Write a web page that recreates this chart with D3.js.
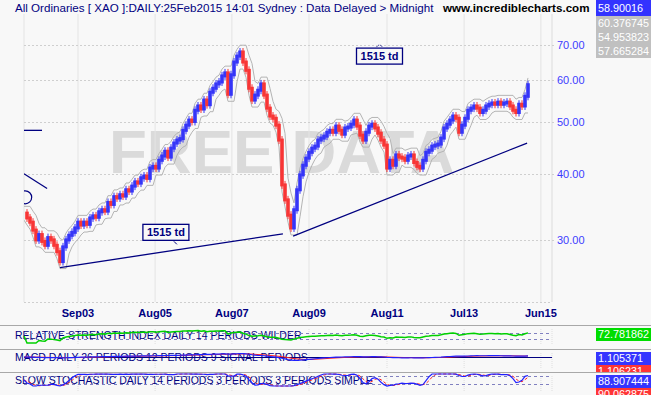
<!DOCTYPE html>
<html>
<head>
<meta charset="utf-8">
<script src="https://cdn.jsdelivr.net/npm/d3@7"></script>
<style>
  body { margin: 0; background: #f8f8f8; }
  svg { display: block; font-family: "Liberation Sans", Arial, sans-serif; }
</style>
</head>
<body>
<div id="chart"></div>
<script>
////////// Data //////////
// one close every ~20 trading days, All Ordinaries (index / 100)
const closes = [
  33.7, 33.0, 32.4, 31.3, 30.0, 30.7, 29.8, 29.3, 30.3, 30.0,
  29.3, 28.5, 27.3, 29.1, 30.0, 30.6, 31.0, 31.6, 32.4, 32.0,
  32.4, 32.1, 33.0, 33.3, 33.1, 33.9, 34.2, 34.0, 35.3, 35.0,
  36.2, 36.0, 36.5, 36.3, 37.3, 37.1, 37.9, 38.6, 38.4, 39.3,
  39.6, 39.2, 41.0, 41.3, 41.0, 42.4, 43.2, 44.1, 43.0, 44.7,
  45.7, 46.3, 46.6, 48.3, 49.4, 50.5, 50.2, 52.7, 53.7, 53.0,
  55.1, 54.0, 57.0, 58.0, 59.1, 59.6, 61.2, 62.0, 56.5, 61.5,
  65.0, 66.7, 67.9, 65.0, 62.7, 58.0, 55.1, 56.3, 57.5, 59.1,
  56.3, 53.2, 51.4, 50.9, 49.4, 46.3, 38.1, 35.7, 33.4, 31.6,
  34.2, 37.3, 39.8, 41.5, 42.8, 43.9, 44.7, 45.1, 46.3, 46.7,
  47.1, 47.9, 48.3, 47.9, 49.2, 48.3, 47.5, 48.8, 49.0, 49.6,
  50.5, 49.2, 47.3, 46.3, 47.9, 49.2, 49.6, 48.8, 47.7, 46.3,
  45.3, 41.0, 42.4, 41.5, 43.4, 43.0, 42.8, 42.4, 43.2, 43.4,
  42.0, 41.3, 41.0, 42.4, 43.9, 44.3, 45.1, 45.3, 45.5, 46.7,
  48.8, 49.6, 50.5, 51.4, 50.9, 47.9, 49.4, 50.9, 52.7, 53.2,
  53.7, 53.2, 52.2, 52.7, 53.7, 54.1, 54.4, 54.1, 54.6, 54.1,
  54.4, 54.6, 53.7, 52.7, 52.2, 54.1, 53.7, 56.0, 58.9
];
const monthLabels = ['Sep03', 'Aug05', 'Aug07', 'Aug09', 'Aug11', 'Jul13', 'Jun15'];
const monthAt = [18, 43.7, 69.3, 95, 121, 146.7, 172.3];   // in sample units
const priceTicks = [30, 40, 50, 60, 70];
const quoteLast = '58.90016';
const quoteOther = ['60.376745', '54.953823', '57.665284'];
const panelTitles = [
  'RELATIVE STRENGTH INDEX DAILY 14 PERIODS WILDER',
  'MACD DAILY 26 PERIODS 12 PERIODS 9 SIGNAL PERIODS',
  'SLOW STOCHASTIC DAILY 14 PERIODS 3 PERIODS 3 PERIODS SIMPLE'
];
const panelValues = [['72.781862'], ['1.105371', '1.106231'], ['88.907444', '90.062875']];
// drawing-tool objects: [sample, price]
const trendLines = [
  [[12, 26.6], [86.3, 30.8]],
  [[89.7, 30.5], [167.7, 45.7]]
];
const trendNotes = [
  { text: '1515 td', at: [47.3, 31.0] },
  { text: '1515 td', at: [118.5, 66.7] }
];

////////// Sizes & styles //////////
const width = 651, height = 395;
const plot = { left: 24, right: 552, top: 14, bottom: 302 };
const navy = '#000080';
const upColor = '#3535f8';
const downColor = '#f83535';
const fontFamily = '"Liberation Sans", Arial, sans-serif';
const font = `11.6px ${fontFamily}`;
const boxFont = `10.8px ${fontFamily}`;

const svg = d3.select('#chart').append('svg')
  .attr('width', width)
  .attr('height', height);

svg.append('rect').attr('width', width).attr('height', height).attr('fill', '#f8f8f8');

const defs = svg.append('defs');
defs.append('clipPath').attr('id', 'plotClip')
  .append('rect')
    .attr('x', plot.left).attr('y', plot.top)
    .attr('width', plot.right - plot.left).attr('height', plot.bottom - plot.top);

////////// Scales //////////
const x = d3.scaleLinear().domain([0, 176]).range([plot.left, plot.right]);
const y = d3.scaleLog().domain([22.9, 80.1]).range([plot.bottom, plot.top]);

////////// Watermark //////////
svg.append('text')
  .attr('x', 109).attr('y', 173)
  .style('font', `bold 62px ${fontFamily}`)
  .attr('fill', '#dadada')
  .text('FREE DATA');

////////// Grid //////////
const grid = svg.append('g').attr('class', 'grid');
grid.selectAll('line.v')
  .data([0].concat(monthAt))
  .join('line')
    .attr('x1', d => x(d)).attr('x2', d => x(d))
    .attr('y1', plot.top).attr('y2', plot.bottom)
    .attr('stroke', '#e4e4e4');
grid.append('line')
  .attr('x1', plot.right).attr('x2', plot.right)
  .attr('y1', plot.top).attr('y2', plot.bottom)
  .attr('stroke', '#dcdcdc');
grid.selectAll('line.h')
  .data(priceTicks)
  .join('line')
    .attr('x1', plot.left).attr('x2', plot.right + 3)
    .attr('y1', d => Math.round(y(d)) + 0.5).attr('y2', d => Math.round(y(d)) + 0.5)
    .attr('stroke', '#cfcfcf')
    .attr('stroke-dasharray', '2,2');
grid.append('line')
  .attr('x1', plot.left).attr('x2', plot.right)
  .attr('y1', plot.bottom + 0.5).attr('y2', plot.bottom + 0.5)
  .attr('stroke', '#cfcfcf')
  .attr('stroke-dasharray', '2,2');

////////// Price //////////
const chart = svg.append('g').attr('clip-path', 'url(#plotClip)');

// price channel round the closes (3 samples)
const upper = closes.map((c, i) => d3.max(closes.slice(Math.max(0, i - 2), i + 1)) * 1.03);
const lower = closes.map((c, i) => d3.min(closes.slice(Math.max(0, i - 2), i + 1)) * 0.97);
const envLine = d3.line().x((d, i) => x(i)).y(d => y(d));
[upper, lower].forEach(band => {
  chart.append('path')
    .attr('d', envLine(band))
    .attr('fill', 'none')
    .attr('stroke', '#b4b4b4')
    .attr('stroke-width', 1);
});

const bars = closes.slice(1).map((c, i) => ({ i: i + 1, open: closes[i], close: c }));
chart.selectAll('line.wick')
  .data(bars)
  .join('line')
    .attr('x1', d => x(d.i)).attr('x2', d => x(d.i))
    .attr('y1', d => y(Math.max(d.open, d.close)) - 4)
    .attr('y2', d => y(Math.min(d.open, d.close)) + 4)
    .attr('stroke', d => d.close >= d.open ? upColor : downColor);
chart.selectAll('rect.bar')
  .data(bars)
  .join('rect')
    .attr('x', d => x(d.i) - 1.8)
    .attr('width', 3.6)
    .attr('y', d => y(Math.max(d.open, d.close)) - 1.5)
    .attr('height', d => Math.abs(y(d.open) - y(d.close)) + 3)
    .attr('fill', d => d.close >= d.open ? upColor : downColor);

////////// Drawing tools //////////
chart.selectAll('line.trend')
  .data(trendLines)
  .join('line')
    .attr('x1', d => x(d[0][0])).attr('y1', d => y(d[0][1]))
    .attr('x2', d => x(d[1][0])).attr('y2', d => y(d[1][1]))
    .attr('stroke', navy)
    .attr('stroke-width', 1.3);

// bits of older drawings cut by the left edge
chart.append('line')
  .attr('x1', x(-4)).attr('x2', x(6)).attr('y1', y(48.3)).attr('y2', y(48.3))
  .attr('stroke', navy).attr('stroke-width', 1.3);
chart.append('line')
  .attr('x1', x(0)).attr('x2', x(7.7)).attr('y1', y(40.0)).attr('y2', y(37.5))
  .attr('stroke', navy).attr('stroke-width', 1.2);
chart.append('circle')
  .attr('cx', x(0.4)).attr('cy', y(36.1)).attr('r', 6.5)
  .attr('fill', 'none').attr('stroke', navy).attr('stroke-width', 1.2);

const notes = svg.selectAll('g.note')
  .data(trendNotes)
  .join('g')
    .attr('transform', d => `translate(${x(d.at[0])}, ${y(d.at[1])})`);
notes.append('rect')
  .attr('x', -23).attr('y', -8).attr('width', 46).attr('height', 16)
  .attr('fill', '#f8f8f8')
  .attr('stroke', navy)
  .attr('stroke-width', 1.3);
notes.append('text')
  .attr('text-anchor', 'middle').attr('y', 4)
  .style('font', `bold 11px ${fontFamily}`)
  .attr('fill', navy)
  .text(d => d.text);
notes.filter((d, i) => i === 0).append('line')
  .attr('x1', 8).attr('y1', 9).attr('x2', 11).attr('y2', 12)
  .attr('stroke', navy);
notes.filter((d, i) => i === 1).append('path')
  .attr('d', 'M-3,-9 Q0,-13 3,-9')
  .attr('fill', 'none')
  .attr('stroke', navy)
  .attr('stroke-dasharray', '1,1');

////////// Axes //////////
svg.append('g')
  .selectAll('text')
  .data(priceTicks)
  .join('text')
    .attr('x', 557).attr('y', d => y(d) + 4)
    .style('font', `11px ${fontFamily}`)
    .attr('fill', '#3c3cff')
    .text(d => d.toFixed(2));

svg.append('g')
  .selectAll('text')
  .data(monthLabels)
  .join('text')
    .attr('x', (d, i) => x(monthAt[i])).attr('y', 317)
    .attr('text-anchor', 'middle')
    .style('font', `bold 11px ${fontFamily}`)
    .attr('fill', navy)
    .text(d => d);

////////// Header //////////
svg.append('text')
  .attr('x', 15).attr('y', 12)
  .style('font', font)
  .attr('fill', navy)
  .text('All Ordinaries [ XAO ]:DAILY:25Feb2015 14:01 Sydney : Data Delayed > Midnight');
svg.append('text')
  .attr('x', 443).attr('y', 12)
  .style('font', `bold ${font}`)
  .attr('fill', '#000')
  .text('www.incrediblecharts.com');

svg.append('rect').attr('x', 596).attr('y', 0).attr('width', 55).attr('height', 16).attr('fill', '#3333ff');
svg.append('text').attr('x', 598).attr('y', 12).style('font', boxFont).attr('fill', '#fff').text(quoteLast);
svg.append('rect').attr('x', 596).attr('y', 16).attr('width', 55).attr('height', 42).attr('fill', '#c0c0c0');
svg.append('g').selectAll('text')
  .data(quoteOther)
  .join('text')
    .attr('x', 598).attr('y', (d, i) => 27 + i * 14)
    .style('font', boxFont)
    .attr('fill', '#fff')
    .text(d => d);

////////// Indicator panels //////////
const ema = (arr, n) => {
  const k = 2 / (n + 1);
  const out = [];
  arr.forEach((v, i) => out.push(i ? v * k + out[i - 1] * (1 - k) : v));
  return out;
};
const sma = (arr, n) => arr.map((v, i) => d3.mean(arr.slice(Math.max(0, i - n + 1), i + 1)));

// RSI (Wilder)
const rsi = [];
let avgUp = 0, avgDown = 0;
closes.forEach((c, i) => {
  if (i === 0) { rsi.push(50); return; }
  const ch = c - closes[i - 1];
  avgUp = (avgUp * 13 + Math.max(ch, 0)) / 14;
  avgDown = (avgDown * 13 + Math.max(-ch, 0)) / 14;
  rsi.push(avgDown === 0 ? 100 : 100 - 100 / (1 + avgUp / avgDown));
});
// MACD
const ema12 = ema(closes, 12), ema26 = ema(closes, 26);
const macd = closes.map((c, i) => ema12[i] - ema26[i]);
const signal = ema(macd, 9);
// slow stochastic
const fastK = closes.map((c, i) => {
  const win = closes.slice(Math.max(0, i - 13), i + 1);
  const lo = d3.min(win), hi = d3.max(win);
  return hi === lo ? 50 : (c - lo) / (hi - lo) * 100;
});
const slowK = sma(fastK, 3);
const slowD = sma(slowK, 3);

const panels = [
  { top: 325, bottom: 349, textY: 339, scale: d3.scaleLinear([0, 100], [343, 329]), levels: [70, 30],
    series: [{ v: rsi, c: '#00d000', w: 1.5 }] },
  { top: 349, bottom: 372, textY: 361, scale: d3.scaleLinear([-10, 10], [363, 351]), levels: [0],
    series: [{ v: signal, c: '#ff2020', w: 1 }, { v: macd, c: '#2020ff', w: 1.2 }] },
  { top: 372, bottom: 395, textY: 384, scale: d3.scaleLinear([0, 100], [386, 374]), levels: [80, 20],
    series: [{ v: slowD, c: '#ff2020', w: 1, dash: '3,2' }, { v: slowK, c: '#2020ff', w: 1.2 }] }
];

panels.forEach((p, pi) => {
  const g = svg.append('g');
  defs.append('clipPath').attr('id', `panelClip${pi}`)
    .append('rect').attr('x', 0).attr('y', p.top + 1).attr('width', width).attr('height', p.bottom - p.top - 1);
  const inner = g.append('g').attr('clip-path', `url(#panelClip${pi})`);

  inner.selectAll('line.v')
    .data(monthAt.concat([176]))
    .join('line')
      .attr('x1', d => x(d)).attr('x2', d => x(d))
      .attr('y1', p.top + 4).attr('y2', p.bottom - 4)
      .attr('stroke', '#dedede')
      .attr('stroke-dasharray', '1,1');
  inner.append('text')
    .attr('x', 15).attr('y', p.textY)
    .style('font', `10.5px ${fontFamily}`)
    .attr('fill', navy)
    .text(panelTitles[pi]);
  inner.selectAll('line.level')
    .data(p.levels)
    .join('line')
      .attr('x1', plot.left).attr('x2', plot.right)
      .attr('y1', d => Math.round(p.scale(d)) + 0.5).attr('y2', d => Math.round(p.scale(d)) + 0.5)
      .attr('stroke', pi === 1 ? navy : '#8080c0')
      .attr('stroke-dasharray', pi === 1 ? null : '3,3');
  p.series.forEach(s => {
    inner.append('path')
      .attr('d', d3.line().x((d, i) => x(i)).y(d => p.scale(d))(s.v))
      .attr('fill', 'none')
      .attr('stroke', s.c)
      .attr('stroke-width', s.w)
      .attr('stroke-dasharray', s.dash || null);
  });

  const boxColors = pi === 0 ? ['#00dd00'] : ['#3535ff', '#ff3535'];
  panelValues[pi].forEach((v, vi) => {
    inner.append('rect')
      .attr('x', 596).attr('y', p.top + 3 + vi * 13)
      .attr('width', 55).attr('height', 13)
      .attr('fill', boxColors[vi]);
    inner.append('text')
      .attr('x', 598).attr('y', p.top + 13 + vi * 13)
      .style('font', boxFont)
      .attr('fill', '#fff')
      .text(v);
  });

  svg.append('line')
    .attr('x1', 0).attr('x2', width)
    .attr('y1', p.top + 0.5).attr('y2', p.top + 0.5)
    .attr('stroke', '#a8a8a8');
});
</script>
</body>
</html>
